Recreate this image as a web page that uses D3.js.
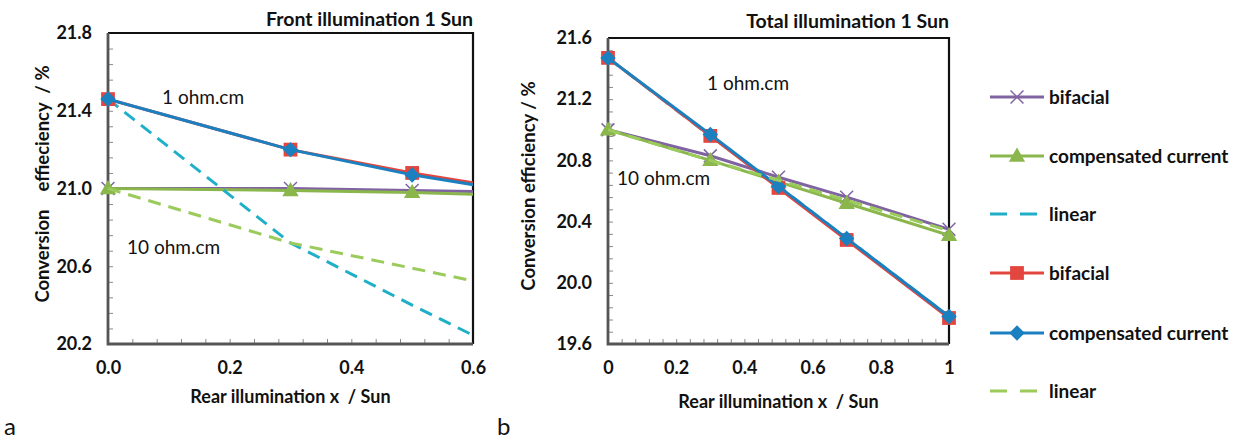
<!DOCTYPE html>
<html>
<head>
<meta charset="utf-8">
<script src="https://cdn.jsdelivr.net/npm/d3@7"></script>
<style>
  body { margin: 0; background: #fff; }
  text { font-family: Lato, "Open Sans", sans-serif; fill: #111; }
  .tick-label text { font-weight: bold; font-size: 18px; }
</style>
</head>
<body>
<div id="chart-area"></div>
<script>
// series order follows the legend
let seriesNames = ['bifacial', 'compensated current', 'linear', 'bifacial', 'compensated current', 'linear'];

// a: front illumination 1 Sun
let frontX = [0, 0.3, 0.5, 0.7];
let frontBifacial10 = [21.00, 21.00, 20.99, 20.98];
let frontCompensated10 = [21.00, 20.99, 20.98, 20.96];
let frontLinear1 = [21.46, 20.72, 20.40, 20.09];
let frontBifacial1 = [21.46, 21.20, 21.08, 20.98];
let frontCompensated1 = [21.46, 21.20, 21.07, 20.97];
let frontLinear10 = [21.00, 20.72, 20.59, 20.46];
let frontXTicks = [0, 0.2, 0.4, 0.6];
let frontYTicks = [20.2, 20.6, 21.0, 21.4, 21.8];

// b: total illumination 1 Sun
let totalX = [0, 0.3, 0.5, 0.7, 1];
let totalBifacial10 = [21.00, 20.83, 20.69, 20.56, 20.35];
let totalCompensated10 = [21.00, 20.80, 20.66, 20.52, 20.31];
let totalLinear1 = [21.47, 20.96, 20.63, 20.29, 19.78];
let totalBifacial1 = [21.47, 20.96, 20.62, 20.28, 19.77];
let totalCompensated1 = [21.47, 20.97, 20.63, 20.29, 19.78];
let totalLinear10 = [21.00, 20.80, 20.67, 20.54, 20.34];
let totalXTicks = [0, 0.2, 0.4, 0.6, 0.8, 1];
let totalYTicks = [19.6, 20.0, 20.4, 20.8, 21.2, 21.6];

let styles = [
  { color: '#8064a2', marker: 'x' },
  { color: '#8ab64c', marker: 'triangle' },
  { color: '#1fafc8', dash: '13,8' },
  { color: '#e2463f', marker: 'square' },
  { color: '#1b80c0', marker: 'diamond' },
  { color: '#9bcb5a', dash: '13,8' }
];

let svg = d3.select('#chart-area').append('svg')
  .attr('width', 1243)
  .attr('height', 443);

function marker(sel, kind, color) {
  if (kind === 'square') {
    sel.append('path').attr('d', d3.symbol(d3.symbolSquare, 190)()).attr('fill', color);
  } else if (kind === 'diamond') {
    sel.append('path').attr('d', d3.symbol(d3.symbolSquare, 120)())
      .attr('transform', 'rotate(45)').attr('fill', color);
  } else if (kind === 'triangle') {
    sel.append('path').attr('d', d3.symbol(d3.symbolTriangle, 115)())
      .attr('transform', 'translate(0,1)').attr('fill', color);
  } else if (kind === 'x') {
    sel.append('path').attr('d', d3.symbol(d3.symbolX, 110)())
      .attr('fill', 'none').attr('stroke', color).attr('stroke-width', 1.5);
  }
}

function drawPanel(p) {
  let x = d3.scaleLinear().domain(p.xDomain).range([p.left, p.right]);
  let y = d3.scaleLinear().domain(p.yDomain).range([p.bottom, p.top]);
  let g = svg.append('g');

  // minor ticks, inside the plot
  let yMinor = d3.range(p.yDomain[0], p.yDomain[1] + 1e-6, 0.08);
  let xMinor = d3.range(p.xDomain[0], p.xDomain[1] + 1e-6, p.xMinorStep);
  g.append('g')
    .attr('transform', `translate(${p.left},0)`)
    .call(d3.axisRight(y).tickValues(yMinor).tickSize(5).tickFormat(''))
    .call(a => a.select('.domain').remove())
    .selectAll('line').attr('stroke', '#8a8a8a');
  g.append('g')
    .attr('transform', `translate(0,${p.bottom})`)
    .call(d3.axisTop(x).tickValues(xMinor).tickSize(5).tickFormat(''))
    .call(a => a.select('.domain').remove())
    .selectAll('line').attr('stroke', '#8a8a8a');

  // frame: top/right black, left/bottom grey
  g.append('path')
    .attr('d', `M${p.left},${p.top}H${p.right}V${p.bottom}`)
    .attr('fill', 'none').attr('stroke', '#111').attr('stroke-width', 2.2);
  g.append('path')
    .attr('d', `M${p.left},${p.top}V${p.bottom}H${p.right}`)
    .attr('fill', 'none').attr('stroke', '#555').attr('stroke-width', 2.8);

  // tick labels
  g.append('g')
    .attr('class', 'tick-label')
    .attr('transform', `translate(${p.left},0)`)
    .call(d3.axisLeft(y).tickValues(p.yTicks).tickSize(0).tickPadding(16).tickFormat(d3.format('.1f')))
    .call(a => a.select('.domain').remove())
    .selectAll('text').attr('font-family', null).attr('font-size', null);
  g.append('g')
    .attr('class', 'tick-label')
    .attr('transform', `translate(0,${p.bottom})`)
    .call(d3.axisBottom(x).tickValues(p.xTicks).tickSize(0).tickPadding(17).tickFormat(p.xFormat))
    .call(a => a.select('.domain').remove())
    .selectAll('text').attr('font-family', null).attr('font-size', null);

  // series
  let clipId = 'clip-' + p.id;
  svg.append('clipPath').attr('id', clipId)
    .append('rect')
    .attr('x', p.left).attr('y', p.top - 20)
    .attr('width', p.right - p.left).attr('height', p.bottom - p.top + 40);

  let line = d3.line()
    .x(d => x(d[0]))
    .y(d => y(d[1]));

  p.series.forEach((vals, i) => {
    let st = styles[i];
    let pts = p.xs.map((xv, j) => [xv, vals[j]]);
    g.append('path')
      .datum(pts)
      .attr('clip-path', `url(#${clipId})`)
      .attr('d', line)
      .attr('fill', 'none')
      .attr('stroke', st.color)
      .attr('stroke-width', 3)
      .attr('stroke-dasharray', st.dash || null);
    if (st.marker) {
      pts.filter(d => d[0] <= p.xDomain[1]).forEach(d => {
        let m = g.append('g').attr('transform', `translate(${x(d[0])},${y(d[1])})`);
        marker(m, st.marker, st.color);
      });
    }
  });

  // titles
  g.append('text')
    .attr('x', p.right).attr('y', p.titleY)
    .attr('text-anchor', 'end')
    .attr('font-weight', 'bold').attr('font-size', p.titleSize)
    .text(p.title);
  g.append('text')
    .attr('x', (p.left + p.right) / 2 + p.xTitleShift).attr('y', p.xTitleY)
    .attr('text-anchor', 'middle')
    .attr('font-weight', 'bold').attr('font-size', 18)
    .style('white-space', 'pre')
    .text('Rear illumination x  / Sun');
  g.append('text')
    .attr('transform', `translate(${p.yTitleX},${p.yTitleY}) rotate(-90)`)
    .attr('text-anchor', 'middle')
    .attr('font-weight', 'bold').attr('font-size', 18.5)
    .style('white-space', 'pre')
    .text(p.yTitle);

  p.notes.forEach(n => {
    g.append('text')
      .attr('x', n.x).attr('y', n.y)
      .attr('font-size', 19)
      .text(n.text);
  });

  g.append('text')
    .attr('x', p.letterX).attr('y', 435)
    .attr('font-family', '"Liberation Serif", "DejaVu Serif", serif')
    .attr('font-size', 24)
    .text(p.letter);
}

drawPanel({
  id: 'a',
  left: 108, right: 473, top: 33, bottom: 344,
  xDomain: [0, 0.6], yDomain: [20.2, 21.8], xMinorStep: 0.04,
  xTicks: frontXTicks, yTicks: frontYTicks, xFormat: d3.format('.1f'),
  xs: frontX,
  series: [frontBifacial10, frontCompensated10, frontLinear1, frontBifacial1, frontCompensated1, frontLinear10],
  title: 'Front illumination 1 Sun', titleY: 26, titleSize: 19.5,
  xTitleY: 403, xTitleShift: 0,
  yTitle: 'Conversion    effieciency  / %', yTitleX: 49, yTitleY: 184,
  notes: [{ x: 162, y: 104, text: '1 ohm.cm' }, { x: 127, y: 254, text: '10 ohm.cm' }],
  letter: 'a', letterX: 4
});

drawPanel({
  id: 'b',
  left: 608, right: 949, top: 38, bottom: 344,
  xDomain: [0, 1], yDomain: [19.6, 21.6], xMinorStep: 0.04,
  xTicks: totalXTicks, yTicks: totalYTicks, xFormat: d => (d === 0 || d === 1) ? d : d3.format('.1f')(d),
  xs: totalX,
  series: [totalBifacial10, totalCompensated10, totalLinear1, totalBifacial1, totalCompensated1, totalLinear10],
  title: 'Total illumination 1 Sun', titleY: 28, titleSize: 19.5,
  xTitleY: 408, xTitleShift: 0,
  yTitle: 'Conversion efficiency / %', yTitleX: 535, yTitleY: 186,
  notes: [{ x: 707, y: 90, text: '1 ohm.cm' }, { x: 617, y: 185, text: '10 ohm.cm' }],
  letter: 'b', letterX: 497
});

// legend
let legend = svg.append('g').attr('transform', 'translate(990,0)');
let legendY = [97, 156, 214, 273, 333, 391];
seriesNames.forEach((name, i) => {
  let st = styles[i];
  let item = legend.append('g').attr('transform', `translate(0,${legendY[i]})`);
  item.append('line')
    .attr('x1', 0).attr('x2', 54)
    .attr('stroke', st.color).attr('stroke-width', 3)
    .attr('stroke-dasharray', st.dash ? '17,13' : null);
  if (st.marker) {
    let m = item.append('g').attr('transform', 'translate(27,0)');
    marker(m, st.marker, st.color);
  }
  item.append('text')
    .attr('x', 59).attr('y', 0)
    .attr('dy', '0.35em')
    .attr('font-weight', 'bold').attr('font-size', 19)
    .text(name);
});
</script>
</body>
</html>
